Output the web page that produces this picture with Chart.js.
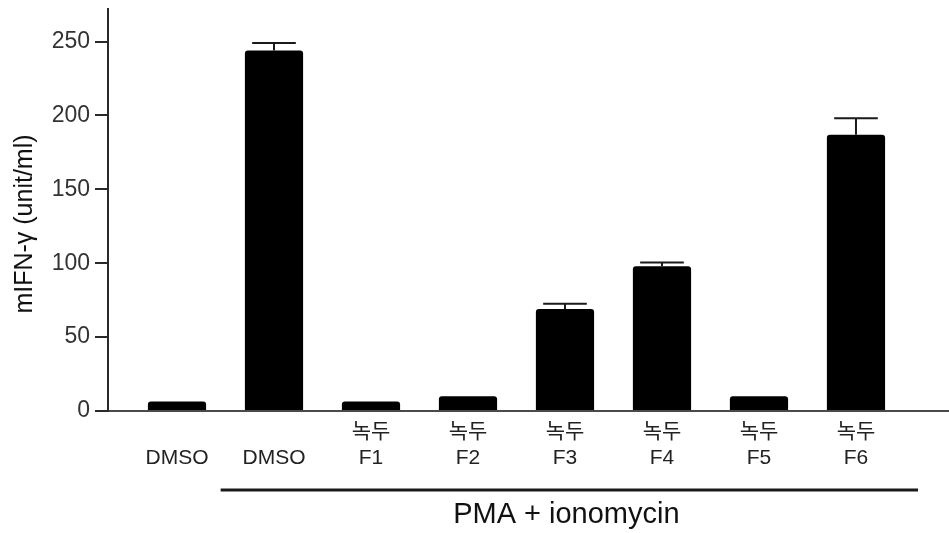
<!DOCTYPE html>
<html>
<head>
<meta charset="utf-8">
<script src="https://cdn.jsdelivr.net/npm/chart.js@4/dist/chart.umd.min.js"></script>
<style>
  html, body { margin: 0; padding: 0; background: #fff; }
  canvas { display: block; }
</style>
</head>
<body>
<canvas id="chart" width="949" height="533"></canvas>
<script>
// IFN-γ release after PMA + ionomycin stimulation, mung bean (녹두) fractions F1–F6.

const groupLabels = [
  ['', 'DMSO'],
  ['', 'DMSO'],
  ['녹두', 'F1'],
  ['녹두', 'F2'],
  ['녹두', 'F3'],
  ['녹두', 'F4'],
  ['녹두', 'F5'],
  ['녹두', 'F6'],
];
const groupPos = [1, 2, 3, 4, 5, 6, 7, 8];
const meanValues = [6.5, 244, 6.5, 10, 69, 98, 10, 187];
const errorValues = [0, 5, 0, 0, 3.5, 2.5, 0, 11];
const yTickValues = [0, 50, 100, 150, 200, 250];
const yTitle = 'mIFN-γ (unit/ml)';
const bracketText = 'PMA + ionomycin';
const bracketGroups = [2, 8];

const LATIN = "'Liberation Sans', Arial, 'Noto Sans CJK KR', sans-serif";

// upper error whiskers with a flat cap
const errorBars = {
  id: 'errorBars',
  afterDatasetsDraw(chart) {
    const { ctx } = chart;
    const ys = chart.scales.y;
    const meta = chart.getDatasetMeta(0);
    ctx.save();
    ctx.strokeStyle = '#1a1a1a';
    ctx.lineWidth = 2;
    meta.data.forEach((bar, i) => {
      if (!errorValues[i]) return;
      const top = ys.getPixelForValue(meanValues[i] + errorValues[i]);
      const half = bar.width * 0.375;
      ctx.beginPath();
      ctx.moveTo(bar.x, bar.y);
      ctx.lineTo(bar.x, top);
      ctx.moveTo(bar.x - half, top);
      ctx.lineTo(bar.x + half, top);
      ctx.stroke();
    });
    ctx.restore();
  },
};

// y title, plus the bracket grouping the stimulated samples
const annotations = {
  id: 'annotations',
  afterDraw(chart) {
    const { ctx, chartArea } = chart;
    const xs = chart.scales.x;
    ctx.save();

    ctx.fillStyle = '#111';
    ctx.font = `25px ${LATIN}`;
    ctx.textAlign = 'center';
    ctx.textBaseline = 'middle';
    ctx.translate(25, (chartArea.top + chartArea.bottom) / 2 + 14);
    ctx.rotate(-Math.PI / 2);
    ctx.fillText(yTitle, 0, 0);
    ctx.setTransform(1, 0, 0, 1, 0, 0);

    const x0 = xs.getPixelForValue(bracketGroups[0] - 0.55);
    const x1 = xs.getPixelForValue(bracketGroups[1] + 0.64);
    const ly = chartArea.bottom + 79;
    ctx.strokeStyle = '#1a1a1a';
    ctx.lineWidth = 3;
    ctx.beginPath();
    ctx.moveTo(x0, ly);
    ctx.lineTo(x1, ly);
    ctx.stroke();

    ctx.fillStyle = '#111';
    ctx.font = `29px ${LATIN}`;
    ctx.textAlign = 'center';
    ctx.textBaseline = 'alphabetic';
    ctx.fillText(bracketText, (x0 + x1) / 2 - 3, chartArea.bottom + 112);
    ctx.restore();
  },
};

new Chart(document.getElementById('chart'), {
  type: 'bar',
  data: {
    datasets: [{
      data: groupPos.map((x, i) => ({ x, y: meanValues[i] })),
      backgroundColor: '#000',
      borderWidth: 0,
      borderRadius: 3,
      categoryPercentage: 1,
      barPercentage: 0.6,
    }],
  },
  options: {
    responsive: false,
    animation: false,
    layout: { padding: { top: 9, right: 0, bottom: 0, left: 0 } },
    plugins: { legend: { display: false }, tooltip: { enabled: false } },
    scales: {
      x: {
        type: 'linear',
        offset: false,
        min: 0.2887,
        max: 8.959,
        grid: { display: false, drawTicks: false, offset: false },
        border: { display: true, color: '#4a4a4a', width: 2 },
        afterBuildTicks: (scale) => {
          scale.ticks = groupPos.map((v) => ({ value: v }));
        },
        afterFit: (scale) => {
          scale.height = 122;
          scale.paddingLeft = 0;
          scale.paddingRight = 0;
        },
        ticks: {
          autoSkip: false,
          maxRotation: 0,
          padding: 9,
          color: '#222',
          font: { family: LATIN, size: 21, lineHeight: 1.2 },
          callback: (v) => groupLabels[groupPos.indexOf(v)] || '',
        },
      },
      y: {
        min: 0,
        max: 272,
        afterBuildTicks: (scale) => {
          scale.ticks = yTickValues.map((v) => ({ value: v }));
        },
        afterFit: (scale) => {
          scale.width = 108;
          scale.paddingTop = 0;
          scale.paddingBottom = 0;
        },
        grid: {
          drawOnChartArea: false,
          drawTicks: true,
          tickLength: 13,
          color: '#2a2a2a',
          lineWidth: 2,
        },
        border: { display: true, color: '#2a2a2a', width: 2 },
        ticks: {
          padding: 5,
          color: '#333',
          font: { family: LATIN, size: 23 },
        },
      },
    },
  },
  plugins: [errorBars, annotations],
});
</script>
</body>
</html>
